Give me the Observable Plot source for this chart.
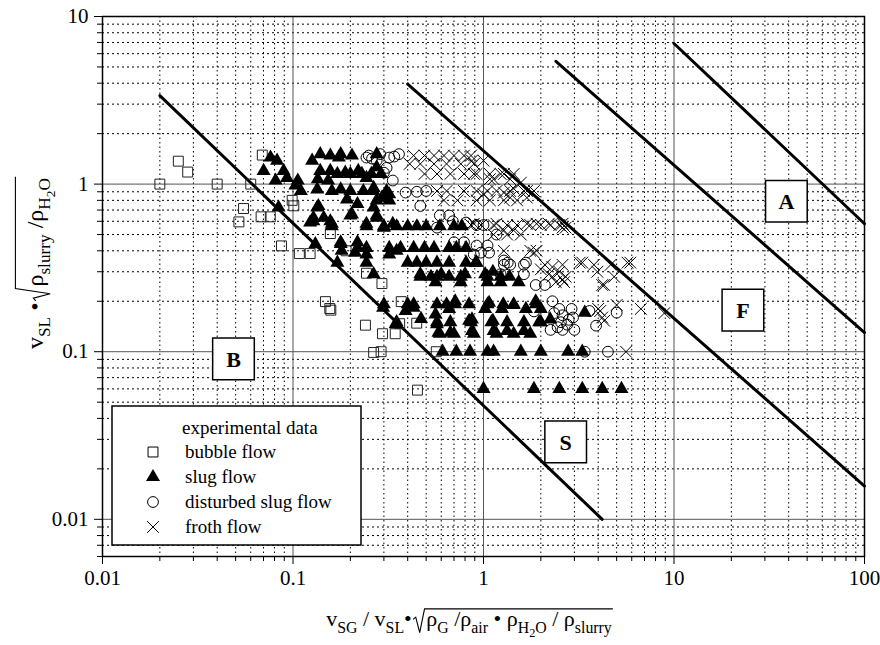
<!DOCTYPE html>
<html><head><meta charset="utf-8">
<script src="https://cdn.jsdelivr.net/npm/d3@7"></script>
<script src="https://cdn.jsdelivr.net/npm/@observablehq/plot@0.6"></script>
<style>body{margin:0;background:#fff} svg{display:block}</style>
</head><body><div id="chart"></div>
<script>
// ---- tick values ----
const majorX = [0.01, 0.1, 1, 10, 100];
const minorX = [0.02,0.03,0.04,0.05,0.06,0.07,0.08,0.09,0.2,0.3,0.4,0.5,0.6,0.7,0.8,0.9,2,3,4,5,6,7,8,9,20,30,40,50,60,70,80,90];
const majorY = [0.01, 0.1, 1, 10];
const minorY = [0.006,0.007,0.008,0.009,0.02,0.03,0.04,0.05,0.06,0.07,0.08,0.09,0.2,0.3,0.4,0.5,0.6,0.7,0.8,0.9,2,3,4,5,6,7,8,9];

// ---- experimental data [x, y] ----
const bubble = [[0.02,1.0],[0.025,1.37],[0.028,1.18],[0.04,1.0],[0.06,1.0],[0.069,1.49],[0.055,0.715],[0.052,0.595],[0.068,0.638],[0.076,0.638],[0.099,0.80],[0.101,0.742],[0.087,0.428],[0.108,0.385],[0.123,0.385],[0.157,0.507],[0.19,0.40],[0.243,0.294],[0.293,0.255],[0.148,0.199],[0.156,0.181],[0.158,0.177],[0.37,0.199],[0.24,0.144],[0.363,0.147],[0.446,0.148],[0.295,0.128],[0.344,0.128],[0.265,0.099],[0.29,0.1],[0.565,0.1],[0.45,0.059]];

const slug = [[0.0762,1.44],[0.0825,1.38],[0.0701,1.20],[0.0893,1.20],[0.081,1.05],[0.093,1.09],[0.106,1.05],[0.11,0.91],[0.103,0.98],[0.084,0.725],
[0.126,1.38],[0.139,1.51],[0.157,1.48],[0.174,1.44],[0.204,1.48],[0.139,1.20],[0.157,1.20],[0.135,1.07],[0.153,1.05],[0.188,1.17],[0.22,1.2],
[0.178,0.93],[0.2,0.91],[0.234,0.91],[0.134,0.93],[0.192,0.81],[0.218,0.76],[0.136,0.74],[0.128,0.63],[0.145,0.63],[0.160,0.58],[0.123,0.59],[0.204,0.66],[0.243,0.58],[0.275,0.63],[0.30,0.55],[0.265,0.725],[0.293,0.83],[0.334,0.58],[0.243,1.09],[0.265,0.95],[0.275,1.26],[0.32,0.87],
[0.131,0.438],[0.178,0.45],[0.218,0.45],[0.18,0.40],[0.212,0.39],[0.243,0.38],[0.243,0.34],[0.265,0.29],[0.171,0.34],[0.32,0.38],[0.35,0.40],[0.134,0.725],[0.128,0.6],[0.157,0.6],[0.178,0.44],
[0.178,1.51],[0.275,1.51],[0.171,1.15],[0.2,1.15],[0.23,1.15],[0.258,1.15],[0.29,1.15],[0.16,0.91],[0.265,0.91],[0.31,0.91],[0.275,0.8],[0.32,0.8],[0.2,0.65],[0.275,0.65],
[0.16,0.56],[0.243,0.56],[0.3,0.56],[0.35,0.56],[0.4,0.56],[0.447,0.56],[0.5,0.56],[0.59,0.56],[0.7,0.56],[0.77,0.56],
[0.218,0.416],[0.243,0.416],[0.32,0.416],[0.367,0.416],[0.43,0.416],[0.49,0.416],[0.55,0.416],[0.66,0.416],[0.72,0.416],[0.81,0.416],
[0.4,0.34],[0.447,0.34],[0.5,0.34],[0.57,0.34],[0.66,0.34],[0.81,0.34],[0.92,0.34],
[0.466,0.28],[0.53,0.28],[0.57,0.28],[0.66,0.28],[0.76,0.28],[1.05,0.28],[1.23,0.28],[1.37,0.28],
[0.3,0.192],[0.4,0.192],[0.43,0.192],[0.57,0.192],[0.64,0.192],[0.71,0.192],[0.84,0.192],[1.05,0.192],[1.27,0.192],[1.44,0.192],[1.88,0.192],
[0.35,0.15],[0.57,0.15],[0.67,0.15],[0.86,0.15],[1.1,0.15],[1.33,0.15],[1.63,0.15],[2.0,0.15],
[0.59,0.128],[0.7,0.128],[0.89,0.128],[1.17,0.128],[1.44,0.128],[1.76,0.128],
[0.297,0.183],[0.346,0.146],[0.39,0.175],[0.43,0.183],[0.47,0.157],[0.56,0.167],[0.57,0.146],[0.58,0.13],[0.67,0.13],[0.66,0.18],[0.71,0.20],[0.84,0.153],[0.61,0.10],
[0.466,0.29],[0.6,0.29],[0.8,0.29],[0.56,0.26],[0.76,0.26],
[0.91,0.34],[1.02,0.29],[1.05,0.26],[1.23,0.26],[1.53,0.26],[1.12,0.30],[1.07,0.196],[1.02,0.18],[1.25,0.18],[1.44,0.19],[1.67,0.18],[1.88,0.2],[2.0,0.18],[2.24,0.156],[1.96,0.15],[1.12,0.153],[1.13,0.133],[1.33,0.133],[1.63,0.133],[0.87,0.133],[0.87,0.156],
[1.05,0.1],[1.13,0.1],[1.57,0.1],[2.0,0.1],[2.78,0.1],[3.3,0.1],[0.72,0.1],[0.85,0.1],
[1.0,0.06],[1.84,0.06],[2.5,0.06],[3.3,0.06],[4.2,0.06],[5.3,0.06],[3.4,0.171]];

const disturbed = [[0.243,1.44],[0.275,1.38],[0.32,1.44],[0.30,1.17],[0.334,1.05],[0.25,1.48],[0.287,1.51],[0.36,1.51],[0.31,1.25],[0.34,1.46],[0.26,1.42],
[0.39,0.89],[0.447,0.9],[0.5,0.91],[0.466,0.74],[0.59,0.65],[0.66,0.65],[0.69,0.6],[0.57,0.55],[0.81,0.59],[0.92,0.57],[1.0,0.57],[1.17,0.50],[0.7,0.45],[0.79,0.45],[0.92,0.43],[1.05,0.43],[0.89,0.38],[1.28,0.35],[1.38,0.33],[1.23,0.29],[1.63,0.33],[1.63,0.29],[1.88,0.25],[2.1,0.25],[0.97,0.39],[1.07,0.39],[1.34,0.34],[1.28,0.33],[1.67,0.34],
[2.3,0.2],[2.5,0.18],[2.35,0.17],[2.6,0.165],[2.8,0.155],[2.55,0.15],[2.45,0.14],[2.25,0.135],[2.6,0.135],[2.9,0.18],[2.95,0.16],[2.75,0.145],[3.0,0.135],
[1.84,0.174],[3.6,0.175],[3.9,0.143],[5.0,0.171],[3.4,0.1],[4.5,0.1]];

const froth = [[0.43,1.48],[0.49,1.48],[0.55,1.48],[0.62,1.48],[0.7,1.48],[0.79,1.48],[0.86,1.48],
[0.41,1.32],[0.466,1.32],[0.55,1.32],[0.64,1.32],[0.76,1.32],[0.89,1.32],
[0.49,1.15],[0.57,1.15],[0.67,1.15],[0.79,1.15],[0.92,1.15],[1.08,1.15],[1.28,1.15],[1.44,1.15],
[0.57,0.91],[0.64,0.91],[0.79,0.91],[0.92,0.91],[1.05,0.91],[1.17,0.91],[1.38,0.91],[1.63,0.91],[1.84,0.91],
[0.62,0.8],[0.73,0.8],[0.92,0.8],[1.08,0.8],[1.28,0.8],[1.5,0.8],
[0.87,1.38],[1.0,1.38],[0.89,1.15],[1.08,1.07],[1.23,1.15],[1.38,1.07],[1.13,1.07],[1.57,1.02],[1.69,0.91],[1.44,0.94],[1.28,0.89],[1.0,0.87],[1.38,0.83],[1.69,0.83],
[0.86,0.57],[0.97,0.57],[1.13,0.57],[1.33,0.57],[1.5,0.57],[1.76,0.57],[2.0,0.57],[2.25,0.57],[2.5,0.57],[0.89,0.58],[1.17,0.58],[1.69,0.58],[1.9,0.58],[2.2,0.58],[2.6,0.58],
[1.13,0.5],[1.33,0.5],[1.57,0.5],[1.28,0.53],[1.44,0.53],[2.6,0.55],[2.7,0.55],
[1.28,0.4],[1.76,0.4],[1.9,0.4],[1.84,0.39],
[2.1,0.33],[2.3,0.32],[2.5,0.3],[2.2,0.29],[2.6,0.27],[2.4,0.26],[2.7,0.28],[2.3,0.28],[2.0,0.31],
[3.3,0.34],[3.8,0.33],[3.96,0.30],[4.2,0.25],[4.85,0.28],[5.9,0.34],[3.2,0.34],[4.65,0.33],[4.3,0.25],[5.7,0.34],[2.6,0.33],[2.65,0.26],
[4.0,0.18],[4.2,0.16],[4.3,0.153],[5.0,0.19],[6.7,0.18],[8.9,0.17],[4.1,0.175],[5.6,0.1]];

// ---- regime boundaries (end points) ----
const boundaryX = [[0.02, 4.2], [0.4, 100], [2.4, 100], [10, 100]];
const boundaryY = [[3.37, 0.01], [3.95, 0.0158], [5.4, 0.13], [6.9, 0.58]];

// ---- regime labels ----
const regionNames = ["A", "F", "B", "S"];
const regionX = [38.9, 23, 0.0487, 2.7];
const regionY = [0.79, 0.177, 0.0906, 0.029];

const boundaryRows = boundaryX.flatMap((xs, i) => xs.map((x, j) => ({id: i, x, y: boundaryY[i][j]})));
const regionRows = regionNames.map((t, i) => ({t, x: regionX[i], y: regionY[i]}));
const px = d => d[0], py = d => d[1];
const FONT = "Liberation Serif";

const chart = Plot.plot({
  width: 880, height: 645,
  marginLeft: 102, marginRight: 16, marginTop: 16, marginBottom: 89,
  style: {fontFamily: FONT, fontSize: "21px", background: "white", color: "black"},
  x: {type: "log", domain: [0.01, 100]},
  y: {type: "log", domain: [0.006, 10]},
  marks: [
    Plot.gridX(minorX, {stroke: "black", strokeOpacity: 1, strokeWidth: 1, strokeDasharray: "1.5,3"}),
    Plot.gridY(minorY, {stroke: "black", strokeOpacity: 1, strokeWidth: 1, strokeDasharray: "2,3"}),
    Plot.gridX(majorX, {stroke: "#555", strokeOpacity: 1, strokeWidth: 1}),
    Plot.gridY(majorY, {stroke: "#555", strokeOpacity: 1, strokeWidth: 1}),
    Plot.line(boundaryRows, {x: "x", y: "y", z: "id", stroke: "black", strokeWidth: 3}),
    Plot.dot(bubble, {x: px, y: py, symbol: "square", r: 5.6, fill: "none", stroke: "#222", strokeWidth: 1}),
    Plot.dot(slug, {x: px, y: py, symbol: "triangle", r: 5.2, fill: "black", stroke: "none"}),
    Plot.dot(disturbed, {x: px, y: py, symbol: "circle", r: 5.4, fill: "none", stroke: "black", strokeWidth: 1}),
    Plot.dot(froth, {x: px, y: py, symbol: "times", r: 5.4, fill: "none", stroke: "black", strokeWidth: 1}),
    Plot.dot(regionRows, {x: "x", y: "y", symbol: "square", r: 23.5, fill: "white", stroke: "black", strokeWidth: 1.5}),
    Plot.text(regionRows, {x: "x", y: "y", text: "t", fontWeight: "bold", fontSize: 22, fontFamily: FONT, dy: 1}),
    Plot.axisX(majorX, {tickSize: 8, tickPadding: 6, label: null, tickFormat: d => String(d), fontSize: 21, fontFamily: FONT}),
    Plot.axisX(minorX, {tickSize: 5, label: null, tickFormat: () => ""}),
    Plot.axisY(majorY, {tickSize: 8, tickPadding: 6, label: null, tickFormat: d => String(d), fontSize: 21, fontFamily: FONT}),
    Plot.axisY(minorY, {tickSize: 5, label: null, tickFormat: () => ""}),
    Plot.frame({stroke: "black", strokeWidth: 1.5})
  ]
});
document.getElementById("chart").append(chart);

const svg = d3.select(chart);

// ---- legend ----
const legendLabels = ["bubble flow", "slug flow", "disturbed slug flow", "froth flow"];
const legendSymbols = [d3.symbolSquare, d3.symbolTriangle, d3.symbolCircle, d3.symbolTimes];
const legendR = [5.6, 5.2, 5.4, 5.4];
const lg = svg.append("g").attr("font-family", FONT).attr("font-size", 19)
  .attr("fill", "black").attr("text-anchor", "start");
lg.append("rect").attr("x", 112).attr("y", 406).attr("width", 249).attr("height", 139)
  .attr("fill", "white").attr("stroke", "black").attr("stroke-width", 1.5);
lg.append("text").attr("x", 182).attr("y", 434).text("experimental data");
legendLabels.forEach((lab, i) => {
  const cy = 452 + i * 25;
  const r = legendR[i];
  const p = lg.append("path").attr("transform", `translate(153,${cy})`)
    .attr("d", d3.symbol(legendSymbols[i], Math.PI * r * r)());
  if (i === 1) p.attr("fill", "black");
  else p.attr("fill", "none").attr("stroke", "black").attr("stroke-width", 1);
  lg.append("text").attr("x", 185).attr("y", cy + 6).text(lab);
});

// ---- axis titles with subscripts and radicals ----
function addRich(parent, parts, size) {
  const t = parent.append("text").attr("font-size", size).attr("font-family", FONT)
    .attr("fill", "black").attr("text-anchor", "start").style("white-space", "pre");
  let cur = 0;
  for (const p of parts) {
    const fs = p.s === 0 ? size : p.s === 1 ? size * 0.72 : size * 0.56;
    const off = p.s === 0 ? 0 : p.s === 1 ? size * 0.3 : size * 0.48;
    t.append("tspan").attr("font-size", fs).attr("dy", off - cur).text(p.t);
    cur = off;
  }
  return t;
}
function mathTitle(parent, A, B, size, radH) {
  const g = parent.append("g").attr("text-anchor", "start");
  const ta = addRich(g, A, size).attr("x", 0);
  const wa = ta.node().getComputedTextLength();
  const x0 = wa + size * 0.06;
  const rw = size * 0.6;
  const tb = addRich(g, B, size).attr("x", x0 + rw);
  const wb = tb.node().getComputedTextLength();
  const top = -size * radH;
  g.append("path")
    .attr("d", `M${x0},${-size*0.3} L${x0+size*0.12},${-size*0.4} L${x0+size*0.3},${size*0.3} L${x0+size*0.52},${top} H${x0+rw+wb+size*0.05}`)
    .attr("fill", "none").attr("stroke", "black").attr("stroke-width", 1.1);
  return {g, width: x0 + rw + wb};
}
const XA = [{t:"v",s:0},{t:"SG",s:1},{t:" / v",s:0},{t:"SL",s:1},{t:"•",s:0}];
const XB = [{t:"ρ",s:0},{t:"G",s:1},{t:" /ρ",s:0},{t:"air",s:1},{t:" • ρ",s:0},{t:"H",s:1},{t:"2",s:2},{t:"O",s:1},{t:" / ρ",s:0},{t:"slurry",s:1}];
const YA = [{t:"v",s:0},{t:"SL",s:1},{t:" •",s:0}];
const YB = [{t:"ρ",s:0},{t:"slurry",s:1},{t:" /ρ",s:0},{t:"H",s:1},{t:"2",s:2},{t:"O",s:1}];

const xt = mathTitle(svg, XA, XB, 22, 0.78);
xt.g.attr("transform", `translate(${469 - xt.width / 2},626)`);
const yt = mathTitle(svg, YA, YB, 24, 1.15);
yt.g.attr("transform", `translate(43,${178 + yt.width}) rotate(-90)`);
</script></body></html>
